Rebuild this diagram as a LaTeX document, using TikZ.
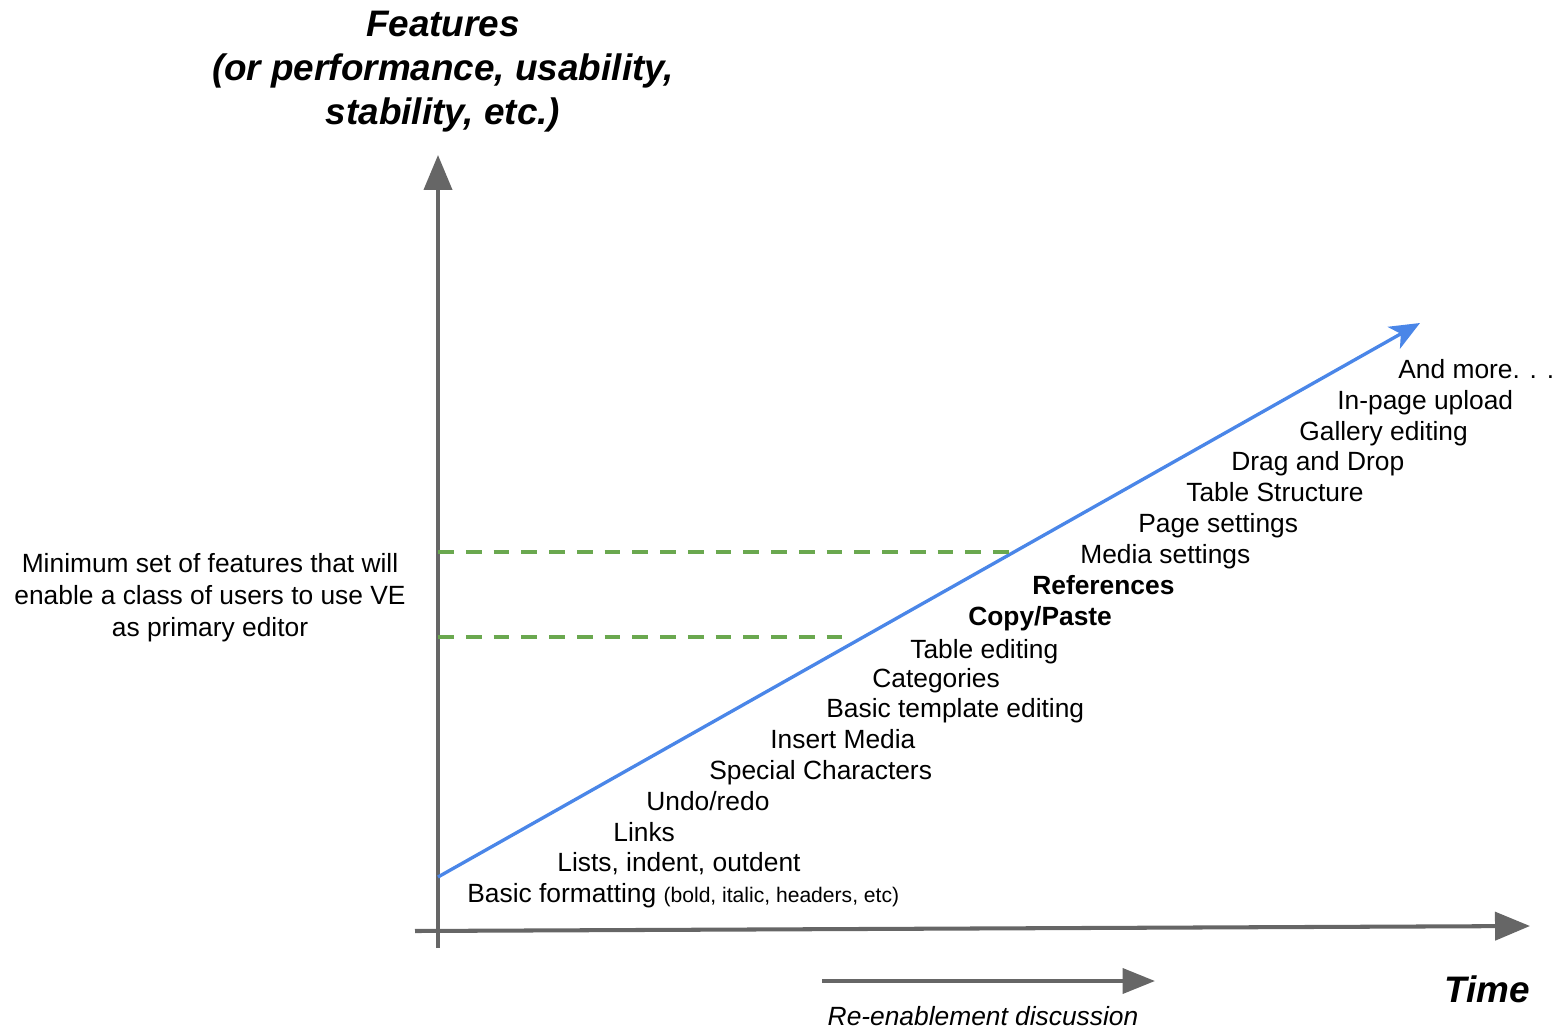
\documentclass[tikz,border=0pt]{standalone}
\usepackage{fontspec}
\setmainfont{Liberation Sans}
\usetikzlibrary{arrows.meta, positioning}
\definecolor{axisgray}{HTML}{666666}
\definecolor{roadblue}{HTML}{4A86E8}
\definecolor{mingreen}{HTML}{6AA84F}
\tikzset{
    axis/.style={draw=axisgray, line width=2.3pt, -{Triangle[length=7mm, width=5.6mm]}},
    roadmap/.style={draw=roadblue, line width=1.9pt, -{Stealth[length=6mm, width=5mm, inset=1.6mm]}},
    minline/.style={draw=mingreen, line width=1.9pt, dash pattern=on 9pt off 6.8pt},
    feat/.style={anchor=base west, inner sep=0pt, font=\fontsize{15}{18}\selectfont},
    featbold/.style={feat, font=\fontsize{15}{18}\selectfont\bfseries},
    axtitle/.style={align=center, inner sep=0pt, font=\fontsize{21}{25}\selectfont\bfseries\itshape},
    note/.style={align=center, inner sep=0pt, font=\fontsize{15}{18.1}\selectfont},
}

\begin{document}
\begin{tikzpicture}[x=0.02cm, y=-0.02cm]
    \useasboundingbox (0,0) rectangle (1563,1028);

    % ── Axes ───────────────────────────────────────────────────────
    \coordinate (ybot) at (438, 948);
    \coordinate (ytop) at (438, 155);
    \coordinate (xleft) at (415, 931);
    \coordinate (xright) at (1530, 926);
    \draw[axis] (ybot) -- (ytop);
    \draw[axis] (xleft) -- (xright);

    \node[axtitle] (ylabel) at (443, 72) {Features\\(or performance, usability,\\stability, etc.)};
    \node[axtitle, anchor=east] (xlabel) at (1530, 989) {Time};

    % ── Feature growth line ────────────────────────────────────────
    \coordinate (b0) at (438, 877);
    \coordinate (b1) at (1420, 323);
    \draw[roadmap] (b0) -- (b1);

    % ── Minimum feature set band ───────────────────────────────────
    \coordinate (m1a) at (438, 552);
    \coordinate (m1b) at (1015, 552);
    \coordinate (m2a) at (438, 637);
    \coordinate (m2b) at (852, 637);
    \draw[minline] (m1a) -- (m1b);
    \draw[minline] (m2a) -- (m2b);
    \node[note] (minset) at (210, 597.5) {Minimum set of features that will\\enable a class of users to use VE\\as primary editor};

    % ── Features ───────────────────────────────────────────────────
    \node[feat] (f18) at (1398, 378) {And more. . .};
    \node[feat] (f17) at (1337, 409) {In-page upload};
    \node[feat] (f16) at (1299, 440) {Gallery editing};
    \node[feat] (f15) at (1231, 470) {Drag and Drop};
    \node[feat] (f14) at (1186, 501) {Table Structure};
    \node[feat] (f13) at (1138, 532) {Page settings};
    \node[feat] (f12) at (1080, 563) {Media settings};
    \node[featbold] (f11) at (1032, 594) {References};
    \node[featbold] (f10) at (968, 625) {Copy/Paste};
    \node[feat] (f9) at (910, 658) {Table editing};
    \node[feat] (f8) at (872, 687) {Categories};
    \node[feat] (f7) at (826, 717) {Basic template editing};
    \node[feat] (f6) at (770, 748) {Insert Media};
    \node[feat] (f5) at (709, 779) {Special Characters};
    \node[feat] (f4) at (646, 810) {Undo/redo};
    \node[feat] (f3) at (613, 841) {Links};
    \node[feat] (f2) at (557, 871) {Lists, indent, outdent};
    \node[feat] (f1) at (467, 902) {Basic formatting {\fontsize{12}{14}\selectfont (bold, italic, headers, etc)}};

    % ── Re-enablement ──────────────────────────────────────────────
    \coordinate (r0) at (822, 981);
    \coordinate (r1) at (1155, 981);
    \draw[axis, -{Triangle[length=6.5mm, width=5mm]}] (r0) -- (r1);
    \node[note, font=\fontsize{15}{18}\selectfont\itshape] (reen) at (983, 1016) {Re-enablement discussion};

\end{tikzpicture}
\end{document}
